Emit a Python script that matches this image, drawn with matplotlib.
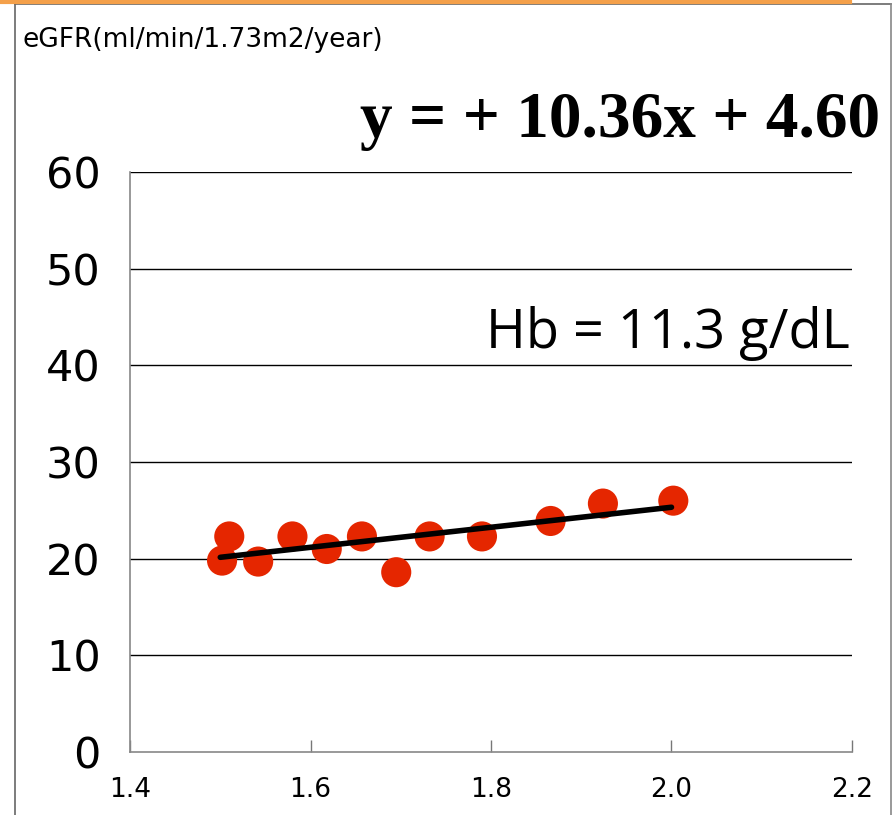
import matplotlib
matplotlib.use('Agg')
import matplotlib.pyplot as plt
from matplotlib.lines import Line2D

# Daten
x_vals = [1.502, 1.510, 1.542, 1.580, 1.618, 1.657, 1.695, 1.732, 1.790, 1.866, 1.924, 2.002]
y_vals = [19.8, 22.3, 19.7, 22.3, 21.0, 22.3, 18.6, 22.3, 22.3, 23.9, 25.7, 26.0]
slope = 10.36
intercept = 4.60
fit_x = [1.5, 2.0]
x_ticks = [1.4, 1.6, 1.8, 2.0, 2.2]
x_tick_labels = ['1.4', '1.6', '1.8', '2.0', '2.2']
y_ticks = [0, 10, 20, 30, 40, 50, 60]

fig = plt.figure(figsize=(8.93, 8.15), dpi=100)
ax = fig.add_axes([130 / 893, 63 / 815, 722 / 893, 580 / 815])

# Gitterlinien
for yt in y_ticks[1:]:
    ax.axhline(yt, color='black', lw=1.0, zorder=1)

ax.scatter(x_vals, y_vals, s=470, color='#e52600', edgecolors='none', zorder=3)
fit_y = [slope * v + intercept for v in fit_x]
ax.plot(fit_x, fit_y, color='black', lw=4, solid_capstyle='round', zorder=4)

ax.set_xlim(1.4, 2.2)
ax.set_ylim(0, 60)
ax.set_xticks(x_ticks)
ax.set_xticklabels(x_tick_labels, family='DejaVu Sans', fontsize=19, fontweight='medium')
ax.set_yticks(y_ticks)
ax.set_yticklabels([str(v) for v in y_ticks], family='DejaVu Sans', fontsize=31)
ax.tick_params(axis='x', direction='in', length=9, width=1, color='#777777', pad=18)
ax.tick_params(axis='y', length=0, pad=21)

for s in ['top', 'right']:
    ax.spines[s].set_visible(False)
ax.spines['left'].set_color('#888888')
ax.spines['bottom'].set_color('#888888')
ax.spines['left'].set_linewidth(1.2)
ax.spines['bottom'].set_linewidth(1.2)

# Rahmen und orange Leiste oben
fig.add_artist(Line2D([15 / 893, 15 / 893], [0, 1 - 4 / 815], transform=fig.transFigure, color='#666666', lw=1.2))
fig.add_artist(Line2D([15 / 893, 891 / 893], [1 - 4 / 815, 1 - 4 / 815], transform=fig.transFigure, color='#666666', lw=1.2))
fig.add_artist(Line2D([891 / 893, 891 / 893], [0, 1 - 4 / 815], transform=fig.transFigure, color='#888888', lw=1.2))
fig.add_artist(Line2D([0, 850 / 893], [1 - 1.5 / 815, 1 - 1.5 / 815], transform=fig.transFigure, color='#f4a04a', lw=3))

fig.text(22 / 893, 1 - 47 / 815, 'eGFR(ml/min/1.73m2/year)', fontsize=19, family='DejaVu Sans', va='baseline')
fig.text(880 / 893, 1 - 137 / 815, 'y = + 10.36x + 4.60', fontsize=47, fontweight='bold',
         family='Liberation Serif', ha='right', va='baseline')
fig.text(850 / 893, 1 - 348 / 815, 'Hb = 11.3 g/dL', fontsize=39, family='Open Sans', ha='right', va='baseline')

fig.savefig('out.png', dpi=100)
